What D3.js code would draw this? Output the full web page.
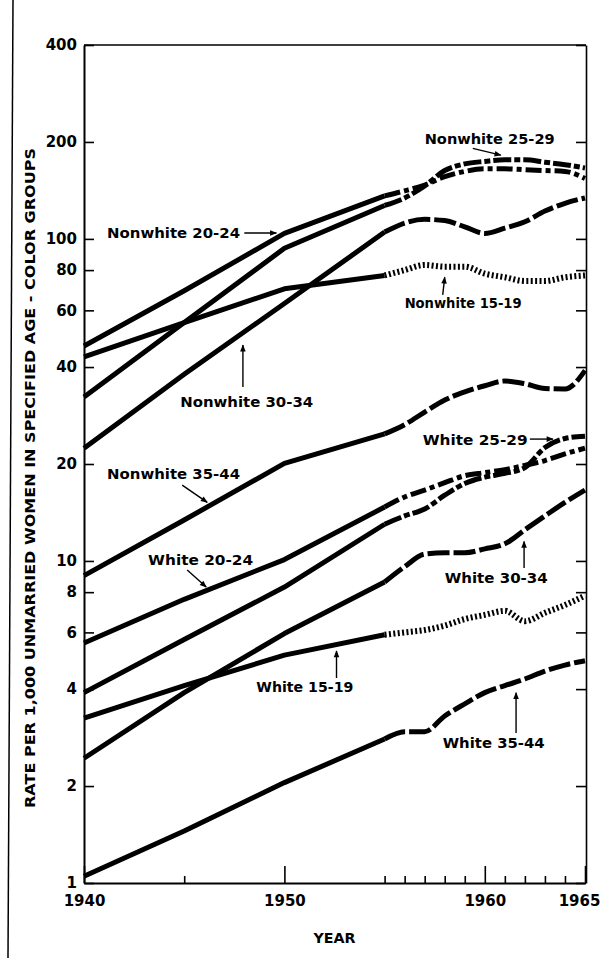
<!DOCTYPE html>
<html>
<head>
<meta charset="utf-8">
<script src="https://cdn.jsdelivr.net/npm/d3@7"></script>
<style>
  html, body { margin: 0; padding: 0; background: #fff; }
  svg { display: block; }
</style>
</head>
<body>
<svg id="chart" width="601" height="958"></svg>
<script>
//years: 5 year steps up to 1955, every year after that
const years = [1940, 1945, 1950, 1955, 1956, 1957, 1958, 1959, 1960, 1961, 1962, 1963, 1964, 1965];

//rates per 1,000 unmarried women
const nonwhite1519 = [43, 55, 70, 77, 80, 83, 82, 82, 78, 76, 74, 74, 76, 77];
const nonwhite2024 = [46.5, 69, 104, 136, 141, 147, 156, 162, 165, 165, 164, 163, 162, 154];
const nonwhite2529 = [32.3, 55, 93.5, 127, 134, 146, 163, 171, 174, 176, 176, 173, 170, 166];
const nonwhite3034 = [22.4, 38, 63, 105, 112, 115, 114, 109, 104, 108, 113, 122, 129, 134];
const nonwhite3544 = [9.0, 13.4, 20.1, 24.8, 26.5, 29, 31.6, 33.5, 35, 36.2, 35.5, 34.3, 34.2, 39];
const white1519 = [3.25, 4.1, 5.1, 5.9, 6.0, 6.1, 6.3, 6.6, 6.8, 7.0, 6.5, 6.9, 7.3, 7.8];
const white2024 = [5.56, 7.6, 10.1, 14.7, 15.8, 16.6, 17.5, 18.4, 18.8, 19.2, 19.8, 20.5, 21.5, 22.4];
const white2529 = [3.9, 5.7, 8.3, 13.0, 13.8, 14.5, 16.0, 17.4, 18.2, 18.7, 19.5, 22.5, 24.0, 24.4];
const white3034 = [2.44, 3.9, 5.95, 8.6, 9.6, 10.5, 10.6, 10.6, 10.9, 11.3, 12.5, 13.8, 15.2, 16.6];
const white3544 = [1.05, 1.45, 2.05, 2.8, 2.95, 2.95, 3.3, 3.6, 3.9, 4.1, 4.3, 4.55, 4.75, 4.9];

//axis ticks
const yTicks = [1, 2, 4, 6, 8, 10, 20, 40, 60, 80, 100, 200, 400];
const majorYears = [1940, 1950, 1960, 1965];
const minorYears = [1945, 1955, 1956, 1957, 1958, 1959, 1961, 1962, 1963, 1964];

//labels: text, start of text (year, rate), arrow from/to (year, rate)
const labelText = ["Nonwhite 20-24", "Nonwhite 25-29", "Nonwhite 15-19", "Nonwhite 30-34", "Nonwhite 35-44",
  "White 20-24", "White 25-29", "White 30-34", "White 15-19", "White 35-44"];
const labelAt = [[1941.15, 104.3], [1957.0, 205], [1956.0, 63.3], [1944.8, 31.1], [1941.15, 18.6],
  [1943.2, 10.07], [1956.9, 23.7], [1958.0, 8.85], [1948.6, 4.06], [1957.9, 2.72]];
const labelWidth = [133, 130, 117, 133, 133, 105, 105, 103, 97, 102];
const arrows = [
  [[1948.0, 104.3], [1949.6, 104.3]],
  [[1959.4, 191], [1960.8, 182]],
  [[1957.9, 67], [1958.0, 76]],
  [[1947.93, 34.7], [1947.93, 46.8]],
  [[1944.9, 17.2], [1946.15, 15.2]],
  [[1945.15, 9.37], [1946.1, 8.3]],
  [[1962.25, 23.9], [1963.4, 23.9]],
  [[1961.96, 9.5], [1961.96, 11.5]],
  [[1952.6, 4.33], [1952.6, 5.25]],
  [[1961.56, 2.92], [1961.56, 3.9]]
];

document.addEventListener("DOMContentLoaded", () => {

  const svg = d3.select("#chart");
  const font = "'DejaVu Sans', sans-serif";

  //plot box
  const left = 84, right = 585, top = 45, bottom = 883;

  const x = d3.scaleLinear().domain([1940, 1965]).range([left, right]);
  const y = d3.scaleLog().domain([1, 400]).range([bottom, top]);

  //line styles after 1955
  const series = [
    { values: nonwhite2024, style: "dashdot" },
    { values: nonwhite2529, style: "dashdot2" },
    { values: nonwhite1519, style: "dot" },
    { values: nonwhite3034, style: "dash" },
    { values: nonwhite3544, style: "dash" },
    { values: white2024, style: "dashdot" },
    { values: white2529, style: "dashdot2" },
    { values: white3034, style: "dash" },
    { values: white1519, style: "dot" },
    { values: white3544, style: "dash" }
  ];

  const dashes = {
    dash: "22,4",
    dashdot: "16,4,5,4",
    dashdot2: "18,3,6,3",
    dot: "2,2.4"
  };

  //scanned page edge on the left
  svg.append("line")
    .attr("x1", 13).attr("y1", 0)
    .attr("x2", 8).attr("y2", 958)
    .attr("stroke", "#000")
    .attr("stroke-width", 1.5);

  //left axis, ticks point inwards
  svg.append("g")
    .attr("transform", `translate(${left},0)`)
    .call(d3.axisLeft(y).tickValues(yTicks).tickFormat(d3.format("d"))
      .tickSizeInner(-10).tickSizeOuter(0).tickPadding(7))
    .call(g => g.select(".domain").attr("stroke-width", 2))
    .call(g => g.selectAll(".tick line").attr("stroke-width", 1.6))
    .call(g => g.selectAll("text")
      .attr("font-family", font).attr("font-weight", "bold")
      .attr("font-size", 15).attr("fill", "#000"));

  //right axis, no labels
  svg.append("g")
    .attr("transform", `translate(${right + 1},0)`)
    .call(d3.axisRight(y).tickValues(yTicks).tickFormat("")
      .tickSizeInner(-10).tickSizeOuter(0))
    .call(g => g.select(".domain").attr("stroke-width", 1.6))
    .call(g => g.selectAll(".tick line").attr("stroke-width", 1.6));

  //bottom axis: small yearly ticks + big labelled ones
  svg.append("g")
    .attr("transform", `translate(0,${bottom})`)
    .call(d3.axisBottom(x).tickValues(minorYears).tickFormat("")
      .tickSizeInner(-7).tickSizeOuter(0))
    .call(g => g.select(".domain").attr("stroke-width", 2))
    .call(g => g.selectAll(".tick line").attr("stroke-width", 1.6));

  svg.append("g")
    .attr("transform", `translate(0,${bottom})`)
    .call(d3.axisBottom(x).tickValues(majorYears).tickFormat(d3.format("d"))
      .tickSizeInner(-17).tickSizeOuter(0).tickPadding(12))
    .call(g => g.select(".domain").remove())
    .call(g => g.selectAll(".tick line").attr("stroke-width", 1.6))
    .call(g => g.selectAll("text")
      .attr("font-family", font).attr("font-weight", "bold")
      .attr("font-size", 15).attr("fill", "#000")
      .attr("dx", d => d === 1965 ? -6 : 0));

  //top edge of the box
  svg.append("line")
    .attr("x1", left).attr("x2", right + 1)
    .attr("y1", top).attr("y2", top)
    .attr("stroke", "#000").attr("stroke-width", 1.6);

  //axis titles
  svg.append("text")
    .attr("transform", `translate(30,${(148 + 808) / 2}) rotate(-90)`)
    .attr("text-anchor", "middle")
    .attr("dy", "0.36em")
    .attr("font-family", font).attr("font-weight", "bold")
    .attr("font-size", 14)
    .attr("textLength", 660)
    .attr("lengthAdjust", "spacingAndGlyphs")
    .text("RATE PER 1,000 UNMARRIED WOMEN IN SPECIFIED AGE - COLOR GROUPS");

  svg.append("text")
    .attr("x", (left + right) / 2)
    .attr("y", 943)
    .attr("text-anchor", "middle")
    .attr("font-family", font).attr("font-weight", "bold")
    .attr("font-size", 14)
    .attr("textLength", 42)
    .attr("lengthAdjust", "spacingAndGlyphs")
    .text("YEAR");

  //the lines: solid up to 1955, patterned after
  const line = d3.line()
    .x(d => x(d[0]))
    .y(d => y(d[1]));

  const lineLate = d3.line()
    .curve(d3.curveMonotoneX)
    .x(d => x(d[0]))
    .y(d => y(d[1]));

  const lines = svg.append("g").attr("fill", "none").attr("stroke", "#000");

  series.forEach(function (s) {
    const pts = years.map((yr, i) => [yr, s.values[i]]);
    lines.append("path")
      .attr("d", line(pts.filter(p => p[0] <= 1955)))
      .attr("stroke-width", 5)
      .attr("stroke-linejoin", "round");
    lines.append("path")
      .attr("d", lineLate(pts.filter(p => p[0] >= 1955)))
      .attr("stroke-width", s.style === "dot" ? 6 : 5)
      .attr("stroke-dasharray", dashes[s.style]);
  });

  //arrow heads
  svg.append("defs").append("marker")
    .attr("id", "head")
    .attr("viewBox", "0 0 10 10")
    .attr("refX", 9).attr("refY", 5)
    .attr("markerUnits", "userSpaceOnUse")
    .attr("markerWidth", 8).attr("markerHeight", 7)
    .attr("orient", "auto")
    .append("path")
    .attr("d", "M0,1 L10,5 L0,9 Z")
    .attr("fill", "#000");

  const notes = svg.append("g");

  labelText.forEach(function (t, i) {
    notes.append("text")
      .attr("x", x(labelAt[i][0]))
      .attr("y", y(labelAt[i][1]))
      .attr("dy", "0.36em")
      .attr("font-family", font).attr("font-weight", "bold")
      .attr("font-size", 14.5)
      .attr("fill", "#000")
      .attr("textLength", labelWidth[i])
      .attr("lengthAdjust", "spacingAndGlyphs")
      .text(t);

    const a = arrows[i];
    notes.append("line")
      .attr("x1", x(a[0][0])).attr("y1", y(a[0][1]))
      .attr("x2", x(a[1][0])).attr("y2", y(a[1][1]))
      .attr("stroke", "#000")
      .attr("stroke-width", 1.4)
      .attr("marker-end", "url(#head)");
  });

});
</script>
</body>
</html>
